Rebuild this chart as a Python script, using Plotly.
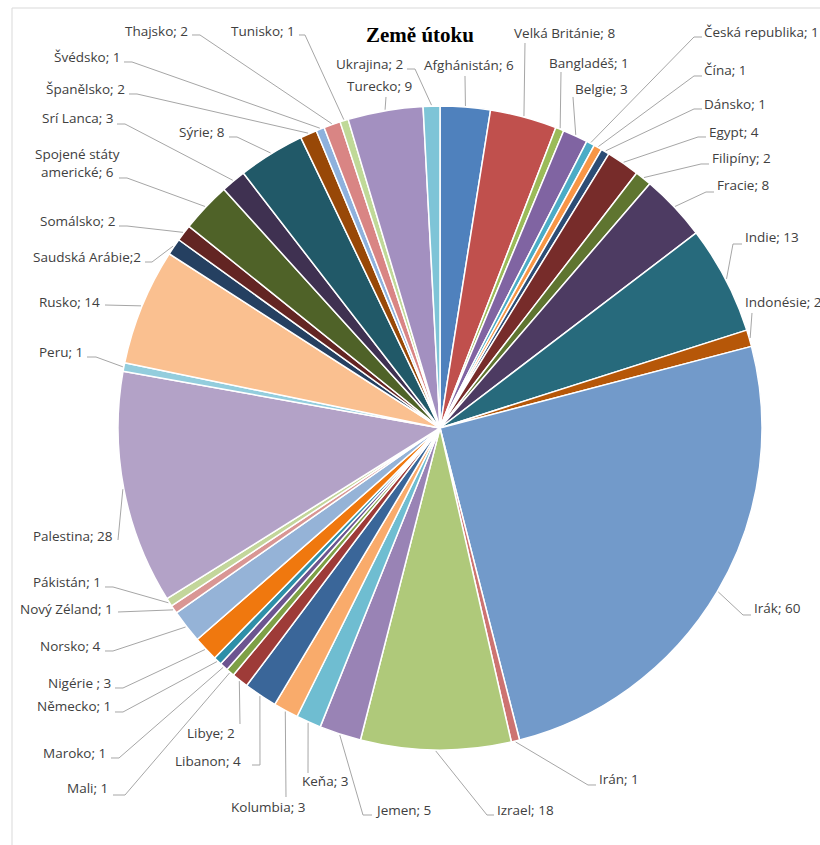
import math
import plotly.graph_objects as go

# ---------------- data ----------------
countries = [
    "Afghánistán", "Velká Británie", "Bangladéš", "Belgie", "Česká republika",
    "Čína", "Dánsko", "Egypt", "Filipíny", "Fracie", "Indie", "Indonésie",
    "Irák", "Irán", "Izrael", "Jemen", "Keňa", "Kolumbia", "Libanon", "Libye",
    "Mali", "Maroko", "Německo", "Nigérie", "Norsko", "Nový Zéland", "Pákistán",
    "Palestina", "Peru", "Rusko", "Saudská Arábie", "Somálsko",
    "Spojené státy americké", "Srí Lanca", "Sýrie", "Španělsko", "Švédsko",
    "Thajsko", "Tunisko", "Turecko", "Ukrajina",
]
values = [6, 8, 1, 3, 1, 1, 1, 4, 2, 8, 13, 2, 60, 1, 18, 5, 3, 3, 4, 2,
          1, 1, 1, 3, 4, 1, 1, 28, 1, 14, 2, 2, 6, 3, 8, 2, 1, 2, 1, 9, 2]
title_text = "Země útoku"
separator_override = {"Saudská Arábie": ";", "Nigérie": " ; "}

# ---------------- style ----------------
colors = [
    "#4F81BD", "#C0504D", "#9BBB59", "#8064A2", "#4BACC6", "#F79646",
    "#2C4D75", "#772C2A", "#5F7530", "#4D3B62", "#276A7C", "#B65708",
    "#729ACA", "#CD7371", "#AFC97A", "#9983B5", "#6FBDD1", "#F9AB6B",
    "#3A6699", "#9E3B38", "#7EA046", "#6C5590", "#2E8FA8", "#F0780E",
    "#95B3D7", "#D99694", "#C3D69B", "#B3A2C7", "#93CDDD", "#FAC090",
    "#254061", "#632523", "#4F6228", "#3F3151", "#215968", "#984807",
    "#8EB1DD", "#D98584", "#C0D998", "#A390C0", "#7EC4D7",
]

W, H = 820, 845
CX, CY, R = 440, 428, 322

# label layout (pixel positions): x, y, xanchor, leader knee points (label side first)
label_layout = [
    (422, 65, "left",   [(465, 76)]),
    (512, 33, "left",   [(525, 43)]),
    (547, 63, "left",   [(561, 72)]),
    (573, 89, "left",   [(573, 97)]),
    (702, 32, "left",   [(702, 37), (694, 37)]),
    (702, 70, "left",   [(702, 76), (694, 76)]),
    (702, 104, "left",  [(702, 109), (694, 109)]),
    (707, 132, "left",  [(706, 137), (698, 137)]),
    (710, 158, "left",  [(709, 164), (701, 164)]),
    (715, 185, "left",  [(714, 192), (706, 192)]),
    (743, 237, "left",  [(742, 244), (733, 244)]),
    (743, 302, "left",  [(752, 313)]),
    (752, 608, "left",  [(751, 615), (743, 615)]),
    (597, 779, "left",  [(596, 785), (588, 785)]),
    (495, 810, "left",  [(494, 815), (487, 815)]),
    (373, 810, "left",  [(372, 815), (363, 815)]),
    (350, 781, "right", [(308, 773)]),
    (308, 807, "right", [(286, 797)]),
    (243, 761, "right", [(252, 765), (260, 765)]),
    (237, 733, "right", [(240, 724)]),
    (110, 788, "right", [(113, 795), (125, 795)]),
    (108, 753, "right", [(111, 758), (119, 758)]),
    (113, 706, "right", [(115, 712), (123, 712)]),
    (113, 683, "right", [(115, 688), (123, 688)]),
    (103, 646, "right", [(105, 651), (113, 651)]),
    (115, 609, "right", [(118, 612)]),
    (103, 582, "right", [(105, 587), (113, 587)]),
    (115, 536, "right", [(118, 540)]),
    (85, 352, "right",  [(87, 357), (96, 357)]),
    (102, 302, "right", [(105, 305)]),
    (143, 257, "right", [(145, 262), (152, 262)]),
    (117, 221, "right", [(119, 226), (127, 226)]),
    (77, 163, "center", [(119, 178), (127, 178)]),
    (115, 118, "right", [(117, 124), (125, 124)]),
    (227, 132, "right", [(229, 137), (237, 137)]),
    (127, 89, "right",  [(129, 94), (137, 94)]),
    (122, 57, "right",  [(124, 62), (132, 62)]),
    (190, 31, "right",  [(192, 35), (200, 35)]),
    (297, 31, "right",  [(299, 35), (305, 35)]),
    (379, 86, "center", [(386, 97)]),
    (405, 64, "right",  [(407, 69), (415, 69)]),
]


def px(x):
    return x / W


def py(y):
    return 1 - y / H


fig = go.Figure()
fig.add_trace(go.Pie(
    values=values,
    labels=countries,
    sort=False,
    direction="clockwise",
    rotation=0,
    marker=dict(colors=colors, line=dict(color="white", width=1.5)),
    textinfo="none",
    hoverinfo="label+value",
    showlegend=False,
    domain=dict(x=[px(CX - R), px(CX + R)], y=[py(CY + R), py(CY - R)]),
))

total = sum(values)
annotations = []
shapes = []
cum = 0.0
for name, v, (lx, ly, xa, knees) in zip(countries, values, label_layout):
    mid = (cum + v / 2) / total * 2 * math.pi
    cum += v
    ax_ = CX + (R + 1) * math.sin(mid)
    ay_ = CY - (R + 1) * math.cos(mid)
    pts = knees + [(ax_, ay_)]
    path = "M " + " L ".join(f"{px(x):.5f},{py(y):.5f}" for x, y in pts)
    shapes.append(dict(type="path", path=path, xref="paper", yref="paper",
                       line=dict(color="#A6A6A6", width=1)))
    sep = separator_override.get(name, "; ")
    disp = name.replace("Spojené státy americké", "Spojené státy<br>americké")
    annotations.append(dict(
        x=px(lx), y=py(ly), xref="paper", yref="paper",
        text=f"{disp}{sep}{v}", showarrow=False,
        xanchor=xa, yanchor="middle", align="center",
        font=dict(family="Open Sans, Lato, sans-serif", size=13.5, color="#404040"),
    ))

annotations.append(dict(
    x=px(420), y=py(35), xref="paper", yref="paper", text=f"<b>{title_text}</b>",
    showarrow=False, xanchor="center", yanchor="middle",
    font=dict(family="Liberation Serif, serif", size=21, color="#000000"),
))

shapes.append(dict(type="rect", xref="paper", yref="paper",
                   x0=px(12), x1=px(W + 20), y0=py(H + 20), y1=py(8),
                   line=dict(color="#D9D9D9", width=1), fillcolor="rgba(0,0,0,0)",
                   layer="below"))

fig.update_layout(
    width=W, height=H,
    margin=dict(l=0, r=0, t=0, b=0),
    paper_bgcolor="white", plot_bgcolor="white",
    annotations=annotations, shapes=shapes,
)

fig.write_html("out.html", include_plotlyjs=True, full_html=True,
               config={"displayModeBar": False},
               post_script="document.body.style.margin='0px';")
